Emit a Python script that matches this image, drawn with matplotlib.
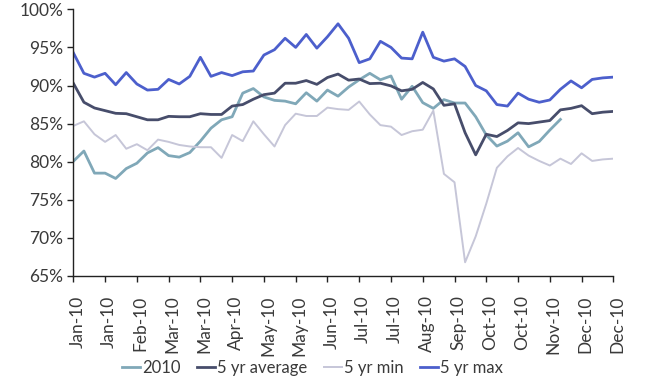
import numpy as np
import matplotlib
matplotlib.use("Agg")
import matplotlib.pyplot as plt
import matplotlib.transforms as mtransforms
from matplotlib.ticker import FuncFormatter

plt.rcParams['font.family'] = ['Lato', 'DejaVu Sans']

# weekly values, % (52 weeks)
tick_labels = ["Jan-10", "Jan-10", "Feb-10", "Mar-10", "Mar-10", "Apr-10",
               "May-10", "May-10", "Jun-10", "Jul-10", "Jul-10", "Aug-10",
               "Sep-10", "Oct-10", "Oct-10", "Nov-10", "Dec-10", "Dec-10"]

yr_2010 = [80.05, 81.4, 78.5, 78.5, 77.8, 79.1, 79.8, 81.15, 81.85, 80.8, 80.6, 81.2,
           82.7, 84.4, 85.5, 85.9, 89.0, 89.6, 88.5, 88.05, 87.95, 87.6, 89.05, 87.95,
           89.4, 88.6, 89.8, 90.75, 91.6, 90.75, 91.25, 88.2, 89.9, 87.75, 87.0, 88.15,
           87.7, 87.7, 85.9, 83.5, 82.05, 82.7, 83.8, 81.95, 82.65, 84.15, 85.55]

avg_5yr = [90.3, 87.8, 87.05, 86.7, 86.35, 86.3, 85.9, 85.5, 85.5, 85.95, 85.9, 85.9,
           86.3, 86.2, 86.2, 87.3, 87.5, 88.2, 88.8, 89.0, 90.3, 90.3, 90.65, 90.15,
           91.05, 91.5, 90.7, 90.85, 90.25, 90.3, 89.95, 89.3, 89.5, 90.4, 89.55, 87.4,
           87.6, 83.8, 80.9, 83.6, 83.3, 84.1, 85.1, 85.0, 85.2, 85.4, 86.8, 87.0,
           87.35, 86.3, 86.5, 86.6]

min_5yr = [84.7, 85.3, 83.6, 82.6, 83.5, 81.7, 82.3, 81.5, 82.9, 82.6, 82.2, 82.0,
           81.9, 81.9, 80.5, 83.5, 82.7, 85.3, 83.6, 82.0, 84.8, 86.3, 86.0, 86.0,
           87.1, 86.9, 86.8, 87.9, 86.2, 84.8, 84.6, 83.5, 84.0, 84.2, 86.7, 78.4,
           77.3, 66.8, 70.2, 74.5, 79.2, 80.7, 81.8, 80.8, 80.1, 79.5, 80.4, 79.7,
           81.1, 80.1, 80.3, 80.4]

max_5yr = [94.3, 91.6, 91.1, 91.6, 90.1, 91.7, 90.2, 89.4, 89.5, 90.8, 90.2, 91.2,
           93.7, 91.2, 91.7, 91.3, 91.8, 91.9, 94.0, 94.7, 96.2, 95.0, 96.7, 94.9,
           96.4, 98.1, 96.2, 93.0, 93.5, 95.8, 95.0, 93.6, 93.5, 97.0, 93.7, 93.2,
           93.5, 92.5, 90.0, 89.3, 87.5, 87.3, 89.0, 88.2, 87.8, 88.1, 89.5, 90.6,
           89.7, 90.8, 91.0, 91.1]

weeks = np.arange(len(avg_5yr))
txt = '#3a3a3a'

fig = plt.figure(figsize=(6.5, 3.8), dpi=100)
ax = fig.add_axes([0.1128, 0.2737, 0.8308, 0.7018])

ax.plot(weeks[:len(yr_2010)], yr_2010, color='#80A8B8', lw=2.0, label='2010')
ax.plot(weeks, avg_5yr, color='#474D6B', lw=2.0, label='5 yr average')
ax.plot(weeks, min_5yr, color='#C6C6D8', lw=1.4, label='5 yr min')
ax.plot(weeks, max_5yr, color='#4C5FCC', lw=2.0, label='5 yr max')

ax.set_xlim(0, 51)
ax.set_ylim(65, 100)
ax.set_yticks(np.arange(65, 101, 5))
ax.yaxis.set_major_formatter(FuncFormatter(lambda v, p: f"{v:.0f}%"))
ax.set_xticks(weeks[::3])
ax.set_xticklabels(tick_labels, rotation=90)

for s in ['top', 'right']:
    ax.spines[s].set_visible(False)
for s in ['left', 'bottom']:
    ax.spines[s].set_color('#222222')
    ax.spines[s].set_linewidth(1.0)

ax.tick_params(axis='both', colors='#222222', labelcolor=txt, labelsize=12.5,
               length=4, width=1.0, direction='out')
ax.tick_params(axis='x', pad=10)
ax.tick_params(axis='y', pad=3)

# nudge rotated labels a bit right, like the original
off = mtransforms.ScaledTranslation(4 / 100, 0, fig.dpi_scale_trans)
for lab in ax.get_xticklabels():
    lab.set_transform(lab.get_transform() + off)

leg = fig.legend(loc='center', bbox_to_anchor=(0.481, 0.032), ncol=4, frameon=False,
                 fontsize=12, handlelength=1.05, handletextpad=0.15,
                 columnspacing=1.0)
for t in leg.get_texts():
    t.set_color(txt)

fig.savefig('out.png', dpi=100)
